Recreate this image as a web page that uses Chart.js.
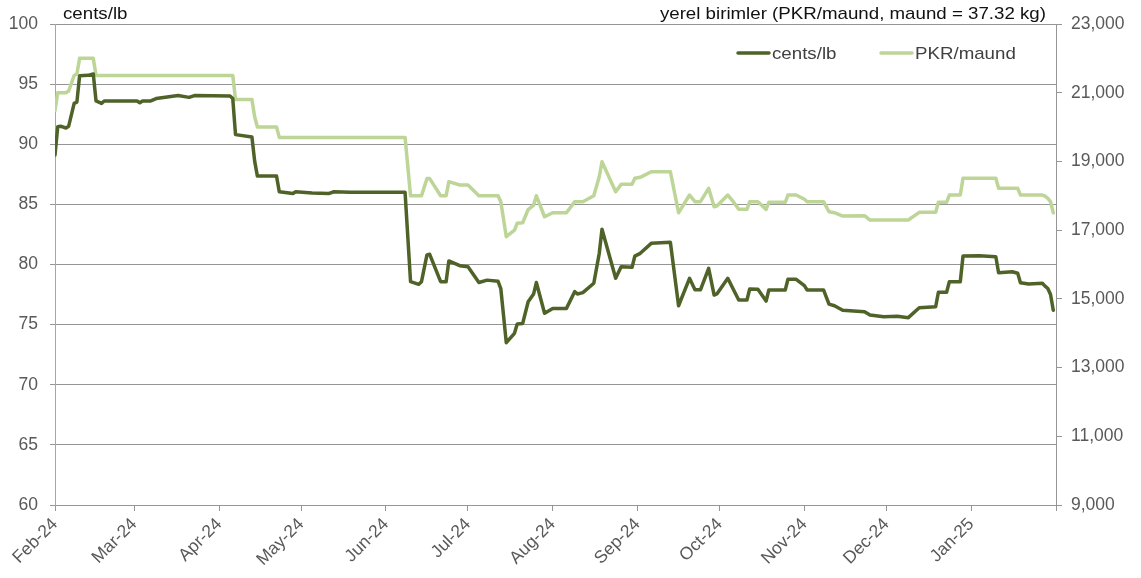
<!DOCTYPE html>
<html>
<head>
<meta charset="utf-8">
<script src="https://cdn.jsdelivr.net/npm/chart.js@4.4.1/dist/chart.umd.min.js"></script>
<style>
html,body{margin:0;padding:0;background:#ffffff;}
#wrap{width:1141px;height:578px;position:relative;}
</style>
</head>
<body>
<div id="wrap"><canvas id="c"></canvas></div>
<script>
// ---- data ----
const dates = [
'2024-02-01','2024-02-02','2024-02-03','2024-02-05','2024-02-06','2024-02-08','2024-02-09','2024-02-10','2024-02-13','2024-02-15',
'2024-02-16','2024-02-18','2024-02-19','2024-03-02','2024-03-03','2024-03-04','2024-03-07','2024-03-09','2024-03-17','2024-03-21',
'2024-03-23','2024-04-05','2024-04-06','2024-04-07','2024-04-13','2024-04-14','2024-04-15','2024-04-22','2024-04-23','2024-04-28',
'2024-04-29','2024-05-05','2024-05-11','2024-05-13','2024-05-19','2024-06-08','2024-06-10','2024-06-13','2024-06-14','2024-06-16',
'2024-06-17','2024-06-21','2024-06-23','2024-06-24','2024-06-28','2024-07-01','2024-07-05','2024-07-08','2024-07-12','2024-07-13',
'2024-07-15','2024-07-18','2024-07-19','2024-07-21','2024-07-23','2024-07-25','2024-07-26','2024-07-29','2024-08-01','2024-08-06',
'2024-08-09','2024-08-10','2024-08-12','2024-08-16','2024-08-18','2024-08-19','2024-08-24','2024-08-26','2024-08-30','2024-08-31',
'2024-09-02','2024-09-06','2024-09-13','2024-09-16','2024-09-20','2024-09-22','2024-09-24','2024-09-27','2024-09-29','2024-09-30',
'2024-10-04','2024-10-06','2024-10-08','2024-10-11','2024-10-12','2024-10-15','2024-10-18','2024-10-19','2024-10-25','2024-10-26',
'2024-10-29','2024-11-01','2024-11-02','2024-11-08','2024-11-10','2024-11-12','2024-11-15','2024-11-23','2024-11-25','2024-11-30',
'2024-12-05','2024-12-09','2024-12-13','2024-12-19','2024-12-20','2024-12-23','2024-12-24','2024-12-28','2024-12-29','2025-01-04',
'2025-01-10','2025-01-11','2025-01-16','2025-01-18','2025-01-19','2025-01-22','2025-01-27','2025-01-28','2025-01-29','2025-01-30',
'2025-01-31'
];
const centsPerLb = [
89.1,91.46,91.5,91.35,91.5,93.4,93.5,95.7,95.73,95.84,
93.6,93.4,93.6,93.6,93.45,93.6,93.6,93.8,94.05,93.9,
94.05,94.02,93.8,90.8,90.6,88.6,87.35,87.35,86.05,85.9,
86.05,85.95,85.9,86.05,86.0,86.0,78.57,78.35,78.57,80.8,
80.85,78.57,78.57,80.3,79.9,79.82,78.5,78.7,78.6,78.0,
73.5,74.28,75.05,75.1,76.9,77.55,78.5,75.94,76.35,76.35,
77.74,77.55,77.66,78.44,80.93,82.93,78.85,79.82,79.77,80.7,
80.93,81.76,81.85,76.57,78.85,77.9,77.9,79.68,77.46,77.55,
78.85,77.94,77.05,77.05,77.96,77.94,76.96,77.88,77.88,78.77,
78.77,78.24,77.88,77.88,76.7,76.57,76.2,76.07,75.8,75.66,
75.7,75.58,76.4,76.49,77.69,77.69,78.57,78.57,80.7,80.72,
80.65,79.32,79.4,79.27,78.49,78.38,78.44,78.2,78.0,77.5,
76.2
];
const pkrPerMaund = [
20480,21000,21000,21000,21050,21500,21545,22000,22000,22000,
21500,21500,21500,21500,21500,21500,21500,21500,21500,21500,
21500,21500,21500,20800,20800,20300,20000,20000,19700,19700,
19700,19700,19700,19700,19700,19700,18000,18000,18000,18500,
18500,18000,18000,18410,18313,18313,18000,18000,18000,17828,
16810,17003,17200,17216,17600,17731,18000,17390,17507,17507,
17828,17828,17828,18000,18555,18992,18118,18333,18333,18508,
18537,18700,18700,17507,18022,17828,17828,18217,17682,17702,
18022,17828,17605,17605,17828,17828,17605,17809,17809,18022,
18022,17900,17828,17828,17536,17507,17410,17420,17295,17295,
17295,17295,17518,17518,17810,17810,18022,18022,18508,18508,
18508,18217,18217,18217,18022,18022,18022,17990,17926,17828,
17507
];
const monthTickDates = ['2024-02-01','2024-03-01','2024-04-01','2024-05-01','2024-06-01','2024-07-01','2024-08-01','2024-09-01','2024-10-01','2024-11-01','2024-12-01','2025-01-01','2025-02-01'];
const monthLabels = ['Feb-24','Mar-24','Apr-24','May-24','Jun-24','Jul-24','Aug-24','Sep-24','Oct-24','Nov-24','Dec-24','Jan-25',''];
const seriesNames = ['cents/lb','PKR/maund'];
const leftTitle = 'cents/lb';
const rightTitle = 'yerel birimler (PKR/maund, maund = 37.32 kg)';

// ---- helpers ----
const START = Date.UTC(2024,1,1);
function dayIndex(s){const p=s.split('-').map(Number);return (Date.UTC(p[0],p[1]-1,p[2])-START)/86400000;}
const xs = dates.map(dayIndex);
const monthDays = monthTickDates.map(dayIndex);
const FONT = "'Liberation Sans', Arial, sans-serif";
const DARK = '#4f6228';
const LIGHT = '#bdd597';
const GRID = '#959595';
const TICKC = '#595959';
const SX = 1.1; // horizontal text stretch for overlay texts

function stretchedText(ctx, text, x, y, align){
  const w = ctx.measureText(text).width * SX;
  let left = x;
  if (align === 'right') left = x - w;
  ctx.save();
  ctx.translate(left, y);
  ctx.scale(SX, 1);
  ctx.textAlign = 'left';
  ctx.fillText(text, 0, 0);
  ctx.restore();
}

const overlayPlugin = {
  id:'overlay',
  afterDraw(chart){
    const ctx = chart.ctx, ca = chart.chartArea;
    ctx.save();
    ctx.font = '17px ' + FONT;
    ctx.fillStyle = '#111111';
    ctx.textBaseline = 'alphabetic';
    stretchedText(ctx, leftTitle, ca.left + 8, 18.5, 'left');
    stretchedText(ctx, rightTitle, ca.right - 10, 18.5, 'right');
    // legend
    const items = chart.data.datasets;
    const pos = [737, 880];
    ctx.textBaseline = 'middle';
    ctx.fillStyle = '#404040';
    items.forEach((ds,i)=>{
      ctx.strokeStyle = ds.borderColor;
      ctx.lineWidth = 3.5;
      ctx.lineCap = 'round';
      ctx.beginPath();
      ctx.moveTo(pos[i]+1, 53); ctx.lineTo(pos[i]+32, 53);
      ctx.stroke();
      stretchedText(ctx, ds.label, pos[i]+35, 54, 'left');
    });
    ctx.restore();
  }
};

new Chart(document.getElementById('c'), {
  type:'line',
  data:{
    datasets:[
      {label:seriesNames[0], data:xs.map((x,i)=>({x:x,y:centsPerLb[i]})), yAxisID:'y', borderColor:DARK, backgroundColor:DARK, borderWidth:3.5, pointRadius:0, tension:0, borderJoinStyle:'round', borderCapStyle:'round'},
      {label:seriesNames[1], data:xs.map((x,i)=>({x:x,y:pkrPerMaund[i]})), yAxisID:'y2', borderColor:LIGHT, backgroundColor:LIGHT, borderWidth:3.5, pointRadius:0, tension:0, borderJoinStyle:'round', borderCapStyle:'round'}
    ]
  },
  options:{
    responsive:true, maintainAspectRatio:false, animation:false,
    layout:{padding:{top:24,left:0,right:0,bottom:0}},
    plugins:{legend:{display:false}, tooltip:{enabled:false}},
    scales:{
      x:{
        type:'linear', min:0, max:monthDays[monthDays.length-1],
        afterBuildTicks:(s)=>{ s.ticks = monthDays.map(v=>({value:v})); },
        afterFit:(s)=>{ s.height = 73; },
        ticks:{autoSkip:false, maxRotation:45, minRotation:45, padding:3, color:TICKC, font:{family:FONT,size:17.5},
          callback:(v,i)=>monthLabels[i]},
        grid:{drawOnChartArea:false, drawTicks:true, tickLength:6, color:GRID, tickColor:GRID},
        border:{display:true, color:GRID, width:1}
      },
      y:{
        position:'left', min:60, max:100,
        afterFit:(s)=>{ s.width = 55; },
        ticks:{stepSize:5, padding:12, color:TICKC, font:{family:FONT,size:17.5}},
        grid:{color:GRID, lineWidth:1, drawTicks:true, tickLength:5, tickColor:GRID},
        border:{display:true, color:'#a6a6a6', width:1}
      },
      y2:{
        position:'right', min:9000, max:23000,
        afterFit:(s)=>{ s.width = 85; },
        ticks:{stepSize:2000, padding:9, color:TICKC, font:{family:FONT,size:17.5},
          callback:(v)=>Number(v).toLocaleString('en-US')},
        grid:{drawOnChartArea:false, drawTicks:true, tickLength:6, color:GRID, tickColor:GRID},
        border:{display:true, color:GRID, width:1}
      }
    }
  },
  plugins:[overlayPlugin]
});
</script>
</body>
</html>
